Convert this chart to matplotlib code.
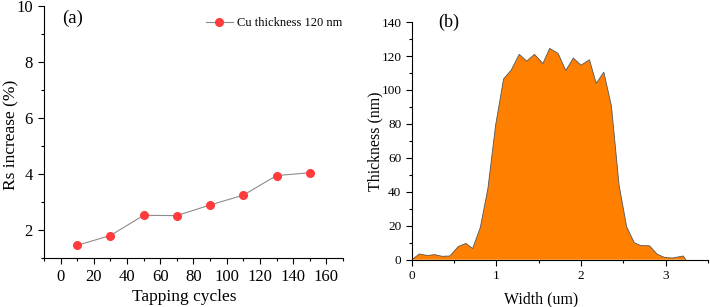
import matplotlib.pyplot as plt
from matplotlib.ticker import MultipleLocator

plt.rcParams['font.family'] = ['Liberation Serif', 'DejaVu Serif']

# (a) Rs increase vs tapping cycles
cycles = [10, 30, 50, 70, 90, 110, 130, 150]
rs_increase = [1.46, 1.81, 2.53, 2.52, 2.90, 3.25, 3.95, 4.05]

# (b) thickness profile
width_um = [0.0, 0.09, 0.18, 0.27, 0.36, 0.45, 0.55, 0.64, 0.72, 0.81, 0.90, 0.99,
            1.085, 1.175, 1.27, 1.36, 1.45, 1.55, 1.63, 1.73, 1.82, 1.91, 2.0, 2.10,
            2.18, 2.27, 2.36, 2.45, 2.54, 2.63, 2.71, 2.81, 2.90, 2.99, 3.08, 3.21, 3.24]
thickness_nm = [0.0, 3.4, 2.5, 3.0, 2.0, 2.2, 7.8, 9.6, 6.6, 19.0, 42, 79,
                106.5, 111.7, 121, 117, 121, 115.6, 124.5, 121.5, 111.5, 118.8, 114.6, 117.8,
                103.9, 110.5, 90.5, 44, 19.4, 10.0, 8.3, 8.2, 3.3, 1.3, 1.0, 2.2, 0.0]

fig = plt.figure(figsize=(7.1, 3.07), dpi=100)

# Panel (a)
ax1 = fig.add_axes([0.062, 0.159, 0.421, 0.821])
ax1.plot(cycles, rs_increase, color='#8c8c8c', linewidth=0.8, marker='o',
         markersize=5.5, markerfacecolor='#ff3b3b', markeredgecolor='#ff3b3b',
         label='Cu thickness 120 nm')
ax1.set_xlim(-10, 170)
ax1.set_ylim(1, 10)
ax1.xaxis.set_major_locator(MultipleLocator(20))
ax1.xaxis.set_minor_locator(MultipleLocator(10))
ax1.yaxis.set_major_locator(MultipleLocator(2))
ax1.yaxis.set_minor_locator(MultipleLocator(1))
ax1.set_xlabel('Tapping cycles', fontsize=12.5)
ax1.set_ylabel('Rs increase (%)', fontsize=12.5)
ax1.xaxis.set_label_coords(0.47, -0.122)
ax1.yaxis.set_label_coords(-0.084, 0.49)
ax1.tick_params(axis='both', which='major', labelsize=12, length=4.5, width=0.8, direction='out')
ax1.tick_params(axis='both', which='minor', length=2.5, width=0.8, direction='out')
for s in ['top', 'right']:
    ax1.spines[s].set_visible(False)
ax1.text(0.06, 0.95, '(a)', transform=ax1.transAxes, fontsize=13.5, va='center')
ax1.legend(loc='upper right', frameon=False, fontsize=9, handlelength=2.2,
           handletextpad=0.3, borderaxespad=0.2, bbox_to_anchor=(1.022, 0.985))

# Panel (b)
ax2 = fig.add_axes([0.580, 0.154, 0.417, 0.774])
ax2.fill_between(width_um, thickness_nm, 0, facecolor='#ff8000', edgecolor='none')
ax2.plot(width_um, thickness_nm, color='#555555', linewidth=0.6)
ax2.set_xlim(0, 3.5)
ax2.set_ylim(0, 140)
ax2.xaxis.set_major_locator(MultipleLocator(1))
ax2.xaxis.set_minor_locator(MultipleLocator(0.5))
ax2.yaxis.set_major_locator(MultipleLocator(20))
ax2.yaxis.set_minor_locator(MultipleLocator(10))
ax2.set_xlabel('Width (um)', fontsize=11.4)
ax2.set_ylabel('Thickness (nm)', fontsize=11.4)
ax2.xaxis.set_label_coords(0.436, -0.132)
ax2.yaxis.set_label_coords(-0.097, 0.5)
ax2.tick_params(axis='both', which='major', labelsize=9.5, length=4, width=0.8, direction='out')
ax2.tick_params(axis='both', which='minor', length=2.5, width=0.8, direction='out')
for s in ['top', 'right']:
    ax2.spines[s].set_visible(False)
ax2.text(0.09, 1.0, '(b)', transform=ax2.transAxes, fontsize=13, va='center')

fig.savefig('out.png', dpi=100)
